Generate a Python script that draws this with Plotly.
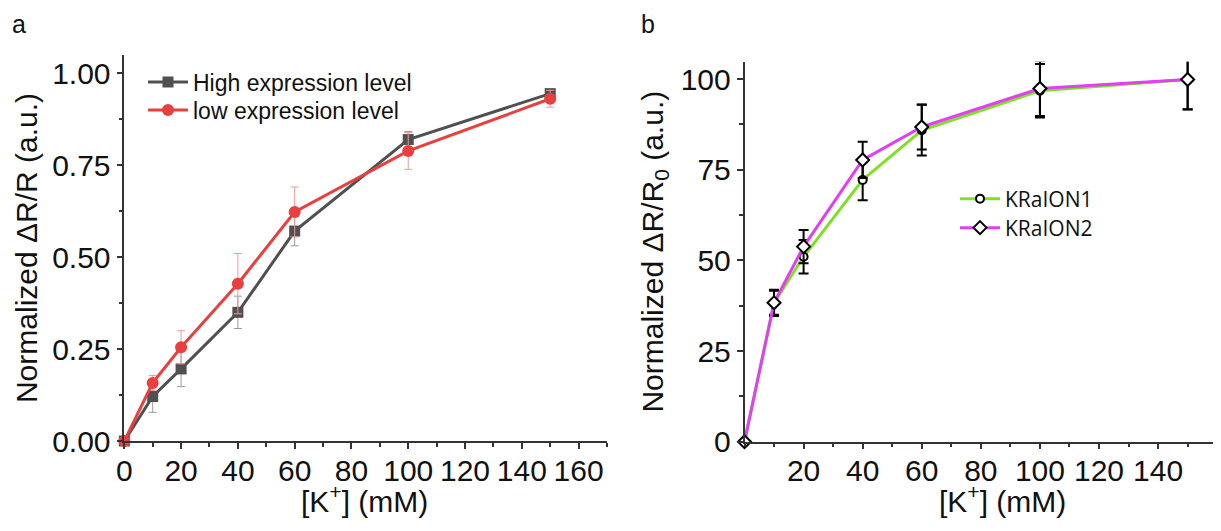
import plotly.graph_objects as go

# ---------------- Panel a data ----------------
k_a = [0, 10, 20, 40, 60, 100, 150]
high_vals = [0, 0.121, 0.196, 0.35, 0.571, 0.82, 0.945]
high_err = [0, 0.043, 0.048, 0.044, 0.04, 0.022, 0.01]
low_vals = [0, 0.158, 0.255, 0.428, 0.623, 0.789, 0.931]
low_err = [0, 0.02, 0.045, 0.082, 0.068, 0.05, 0.023]

# ---------------- Panel b data ----------------
k_b = [0, 10, 20, 40, 60, 100, 150]
kraion1_vals = [0, 38.3, 51.0, 72.2, 85.9, 96.8, 99.9]
kraion1_err = [0, 3.3, 4.6, 5.6, 7.0, 7.4, 8.2]
kraion2_vals = [0, 38.3, 53.8, 77.7, 86.8, 97.4, 99.9]
kraion2_err = [0, 3.6, 4.6, 5.0, 6.2, 7.6, 8.3]

x_ticks_a = [0, 20, 40, 60, 80, 100, 120, 140, 160]
y_ticks_a = [0, 0.25, 0.5, 0.75, 1.0]
y_ticklabels_a = ["0.00", "0.25", "0.50", "0.75", "1.00"]
x_ticks_b = [20, 40, 60, 80, 100, 120, 140]
y_ticks_b = [0, 25, 50, 75, 100]

FONT = "Liberation Sans, Arial, sans-serif"
LEG_B_FONT = "Open Sans, sans-serif"
GRAY = "#505050"
RED = "#e8403f"
GREEN = "#80e028"
MAGENTA = "#e040f0"

fig = go.Figure()

fig.add_trace(go.Scatter(
    x=k_a, y=high_vals, name="High expression level", mode="lines+markers",
    line=dict(color=GRAY, width=3),
    marker=dict(symbol="square", size=11, color=GRAY),
    error_y=dict(type="data", array=high_err, color="#9a9a9a", thickness=1, width=4),
    cliponaxis=False, xaxis="x", yaxis="y", legend="legend"))
fig.add_trace(go.Scatter(
    x=k_a, y=low_vals, name="low expression level", mode="lines+markers",
    line=dict(color=RED, width=3),
    marker=dict(symbol="circle", size=12, color=RED),
    error_y=dict(type="data", array=low_err, color="#ee9a9a", thickness=1, width=4),
    cliponaxis=False, xaxis="x", yaxis="y", legend="legend3"))

fig.add_trace(go.Scatter(
    x=k_b, y=kraion1_vals, name="KRaION1", mode="lines+markers",
    line=dict(color=GREEN, width=3),
    marker=dict(symbol="circle", size=8, color="white", line=dict(color="black", width=2)),
    error_y=dict(type="data", array=kraion1_err, color="black", thickness=2, width=5),
    cliponaxis=False, xaxis="x2", yaxis="y2", legend="legend2"))
fig.add_trace(go.Scatter(
    x=k_b, y=kraion2_vals, name="KRaION2", mode="lines+markers",
    line=dict(color=MAGENTA, width=3),
    marker=dict(symbol="diamond", size=10, color="white", line=dict(color="black", width=2)),
    error_y=dict(type="data", array=kraion2_err, color="black", thickness=2, width=5),
    cliponaxis=False, xaxis="x2", yaxis="y2", legend="legend4"))

W, H = 1221, 531
OFF = 8  # page body margin
def px(v):
    return (v - OFF) / W
def py(v):
    return 1 - (v - OFF) / H

axis_common = dict(
    showline=True, linecolor="#333333", linewidth=1.5, showgrid=False, zeroline=False,
    ticks="outside", ticklen=6, tickwidth=1.5, tickcolor="#333333", automargin=False,
    tickfont=dict(family=FONT, size=30, color="#111111"),
)
minor_common = dict(ticks="outside", ticklen=4, tickwidth=1.5, tickcolor="#333333")

def leg(x, y, family, size):
    return dict(x=px(x), y=py(y), xanchor="left", yanchor="middle",
                bgcolor="rgba(0,0,0,0)", font=dict(family=family, size=size, color="#111111"),
                tracegroupgap=0, itemwidth=40)

fig.update_layout(
    template="none",
    width=W, height=H, margin=dict(l=0, r=0, t=0, b=0, autoexpand=False),
    paper_bgcolor="white", plot_bgcolor="white",
    font=dict(family=FONT, color="#111111"),
    xaxis=dict(**axis_common, domain=[px(124.3), px(607)], range=[0, 170],
               tickvals=x_ticks_a, anchor="y", ticklabelstandoff=-4,
               minor=dict(dtick=10, **minor_common)),
    yaxis=dict(**axis_common, domain=[py(441), py(55)], range=[0, 1.05],
               tickvals=y_ticks_a, ticktext=y_ticklabels_a, anchor="x",
               minor=dict(dtick=0.125, **minor_common),
               title=dict(text="Normalized ΔR/R (a.u.)", font=dict(family=FONT, size=30), standoff=6)),
    xaxis2=dict(**axis_common, domain=[px(744.5), 1.0], range=[0, 164],
                tickvals=x_ticks_b, anchor="y2", ticklabelstandoff=-4,
                minor=dict(tick0=0, dtick=10, **minor_common)),
    yaxis2=dict(**axis_common, domain=[py(441.7), py(61.7)], range=[0, 104.8],
                tickvals=y_ticks_b, anchor="x2",
                minor=dict(dtick=12.5, **minor_common),
                title=dict(text="Normalized ΔR/R<sub>0</sub> (a.u.)", font=dict(family=FONT, size=30), standoff=8)),
    legend=leg(143, 82, FONT, 23),
    legend3=leg(143, 110, FONT, 23),
    legend2=leg(955, 199, LEG_B_FONT, 21),
    legend4=leg(955, 228, LEG_B_FONT, 21),
    showlegend=True,
    annotations=[
        dict(text="a", x=px(10), y=py(8), xref="paper", yref="paper", showarrow=False,
             xanchor="left", yanchor="top", font=dict(family=FONT, size=25, color="#111111")),
        dict(text="b", x=px(639), y=py(8), xref="paper", yref="paper", showarrow=False,
             xanchor="left", yanchor="top", font=dict(family=FONT, size=25, color="#111111")),
        dict(text="[K<sup>+</sup>] (mM)", x=px(365), y=py(499), xref="paper", yref="paper",
             showarrow=False, xanchor="center", yanchor="middle",
             font=dict(family=FONT, size=30, color="#111111")),
        dict(text="[K<sup>+</sup>] (mM)", x=px(1002), y=py(499), xref="paper", yref="paper",
             showarrow=False, xanchor="center", yanchor="middle",
             font=dict(family=FONT, size=30, color="#111111")),
    ],
)

fig.write_html("out.html")
